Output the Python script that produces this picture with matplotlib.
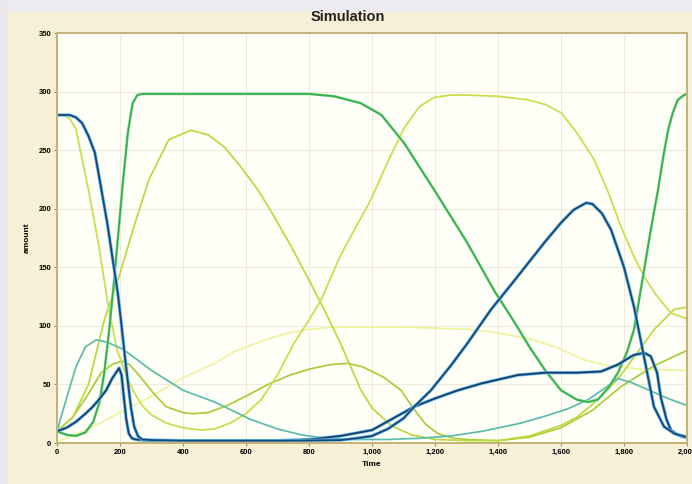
import matplotlib
matplotlib.use("Agg")
import matplotlib.pyplot as plt
import matplotlib.patheffects as pe
from matplotlib.ticker import FuncFormatter
from matplotlib.patches import Rectangle

# ---- data ----
t_b1 = [0, 40, 60, 80, 100, 120, 130, 145, 160, 175, 193, 205, 215, 225, 235, 245, 257, 270, 300,
        400, 500, 600, 700, 800, 900, 950, 1000, 1050, 1100, 1134, 1187, 1250, 1300, 1378, 1450,
        1500, 1550, 1600, 1640, 1680, 1700, 1730, 1759, 1800, 1832, 1864, 1895, 1927, 1960, 2000]
v_b1 = [280, 280, 278, 273, 262, 248, 233, 210, 187, 160, 128, 100, 75, 52, 30, 14, 6, 3, 2.5,
        2, 2, 2, 2, 2.2, 2.5, 4, 6, 12, 21, 31, 45, 66, 84, 114, 138,
        155, 172, 188, 199, 205, 204, 196, 182, 150, 116, 73, 31, 14, 8, 5]

t_b2 = [0, 30, 60, 90, 110, 130, 156, 175, 197, 205, 213, 220, 228, 238, 250, 270, 300, 500,
        700, 800, 900, 1000, 1134, 1200, 1273, 1350, 1463, 1550, 1650, 1727, 1781, 1830, 1864,
        1885, 1905, 1917, 1935, 1949, 1970, 1990, 2000]
v_b2 = [10, 13, 18, 25, 30, 36, 45, 55, 64, 58, 37, 20, 8, 4, 3, 2.5, 2, 2,
        2, 3, 6, 11, 31, 38, 45, 51, 58, 60, 60, 61, 67, 75, 77,
        74, 60, 39, 20, 11, 7, 5, 5]

t_g = [0, 30, 60, 90, 115, 135, 150, 165, 180, 195, 210, 225, 240, 255, 270, 300, 500, 700,
       800, 880, 965, 1030, 1102, 1200, 1300, 1388, 1450, 1500, 1550, 1600, 1650, 1686, 1717,
       1750, 1781, 1810, 1832, 1864, 1885, 1908, 1925, 1940, 1955, 1971, 1990, 2000]
v_g = [10, 7, 6, 9, 18, 35, 60, 95, 135, 180, 225, 265, 290, 297, 298, 298, 298, 298,
       298, 296, 290, 280, 256, 215, 172, 130, 104, 82, 62, 45, 37, 35, 37,
       47, 60, 78, 97, 148, 182, 216, 245, 267, 282, 293, 297, 298]

t_y1 = [0, 20, 40, 60, 100, 133, 162, 190, 220, 241, 270, 300, 346, 400, 457, 500, 550, 600,
        648, 700, 752, 800, 838, 900, 950, 997, 1050, 1100, 1150, 1197, 1250, 1300, 1400,
        1494, 1550, 1600, 1650, 1705, 1750, 1790, 1830, 1864, 1900, 1949, 2000]
v_y1 = [280, 280, 277, 268, 216, 168, 118, 80, 58, 45, 32, 24, 17, 13, 11, 12, 17, 25,
        37, 58, 85, 105, 122, 160, 185, 208, 240, 268, 287, 295, 297, 297, 296,
        293, 289, 282, 265, 242, 214, 185, 160, 142, 127, 111, 106]

t_y2 = [0, 50, 100, 150, 197, 241, 292, 355, 425, 480, 530, 580, 638, 690, 743, 800, 848, 900,
        965, 1000, 1060, 1124, 1200, 1300, 1400, 1500, 1600, 1650, 1700, 1750, 1790, 1850,
        1896, 1959, 2000]
v_y2 = [10, 22, 50, 105, 142, 182, 225, 259, 267, 263, 253, 237, 216, 193, 168, 139, 114, 85,
        45, 30, 15, 7, 3, 2, 2, 6, 15, 22, 33, 46, 58, 80,
        97, 114, 116]

t_y3 = [0, 50, 100, 140, 175, 205, 230, 260, 308, 346, 400, 430, 480, 540, 600, 670, 740, 800,
        870, 924, 970, 1038, 1092, 1130, 1170, 1209, 1260, 1300, 1400, 1500, 1600, 1700, 1790,
        1896, 2000]
v_y3 = [10, 22, 42, 60, 67, 70, 67, 58, 42, 31, 26, 25, 26, 32, 40, 50, 58, 63,
        67, 68, 65, 56, 45, 30, 16, 8, 4, 3, 2, 5, 13, 28, 48,
        66, 79]

t_c = [0, 30, 60, 90, 124, 160, 210, 300, 400, 500, 616, 700, 775, 850, 950, 1050, 1150, 1250,
       1350, 1473, 1550, 1620, 1686, 1740, 1780, 1820, 1880, 1940, 2000]
v_c = [10, 38, 65, 82, 88, 86, 80, 62, 45, 35, 20, 12, 7, 4, 3, 3, 4, 6,
       10, 17, 23, 29, 37, 47, 55, 52, 45, 38, 32]

t_p = [0, 100, 200, 300, 403, 500, 563, 650, 733, 800, 880, 1000, 1100, 1200, 1305, 1400,
       1514, 1600, 1673, 1750, 1850, 2000]
v_p = [1, 12, 26, 40, 56, 68, 78, 87, 94, 97, 99, 99, 99, 98, 97, 94,
       88, 80, 71, 66, 63, 62]

x_ticks = [0, 200, 400, 600, 800, 1000, 1200, 1400, 1600, 1800, 2000]
y_ticks = [0, 50, 100, 150, 200, 250, 300, 350]

# ---- figure ----
W, H = 692, 484
fig = plt.figure(figsize=(W / 100, H / 100), dpi=100)
fig.patch.set_facecolor("#f7efd6")
fig.patches.append(Rectangle((0, 1 - 12 / H), 1, 12 / H, transform=fig.transFigure,
                             facecolor="#ecebf0", edgecolor="none", zorder=-1))
fig.patches.append(Rectangle((0, 0), 8 / W, 1, transform=fig.transFigure,
                             facecolor="#e9e6ee", edgecolor="none", zorder=-1))

ax = fig.add_axes([57 / W, 1 - 443 / H, 630 / W, 410 / H])
ax.set_facecolor("#fffff8")

lw = 1.25
ax.plot(t_p, v_p, color="#eef3a0", lw=lw)
ax.plot(t_y3, v_y3, color="#a9cc38", lw=lw)
ax.plot(t_y2, v_y2, color="#bcd83e", lw=lw)
ax.plot(t_y1, v_y1, color="#c9dd4a", lw=lw)
ax.plot(t_c, v_c, color="#5cbcab", lw=lw)
ax.plot(t_g, v_g, color="#37b04a", lw=1.3,
        path_effects=[pe.Stroke(linewidth=2.0, foreground="#9fe0ae"), pe.Normal()])
halo = [pe.Stroke(linewidth=2.4, foreground="#63bfe6"), pe.Normal()]
ax.plot(t_b2, v_b2, color="#1b3e6e", lw=1.3, path_effects=halo)
ax.plot(t_b1, v_b1, color="#1c4478", lw=1.3, path_effects=halo)

ax.set_xlim(0, 2000)
ax.set_ylim(0, 350)
ax.set_xticks(x_ticks)
ax.set_yticks(y_ticks)
ax.xaxis.set_major_formatter(FuncFormatter(lambda v, p: f"{v:,.0f}"))
ax.grid(True, color="#efebdc", lw=0.8)
ax.set_axisbelow(True)
for s in ax.spines.values():
    s.set_color("#c2b275")
    s.set_linewidth(1.4)
ax.tick_params(axis="both", length=2, width=0.8, color="#9a8e60", labelsize=5.5, pad=2)
for lab in ax.get_xticklabels() + ax.get_yticklabels():
    lab.set_fontweight("bold")
    lab.set_family("Liberation Sans")

ax.set_xlabel("Time", fontsize=6, fontweight="bold", family="Liberation Sans", labelpad=4)
ax.set_ylabel("amount", fontsize=6, fontweight="bold", family="Liberation Sans", labelpad=6)
fig.text(348 / W, 1 - 17 / H, "Simulation", ha="center", va="center", fontsize=10.5,
         fontweight="bold", family="Liberation Sans", color="#222222")

fig.savefig("out.png", dpi=100, facecolor=fig.get_facecolor())
